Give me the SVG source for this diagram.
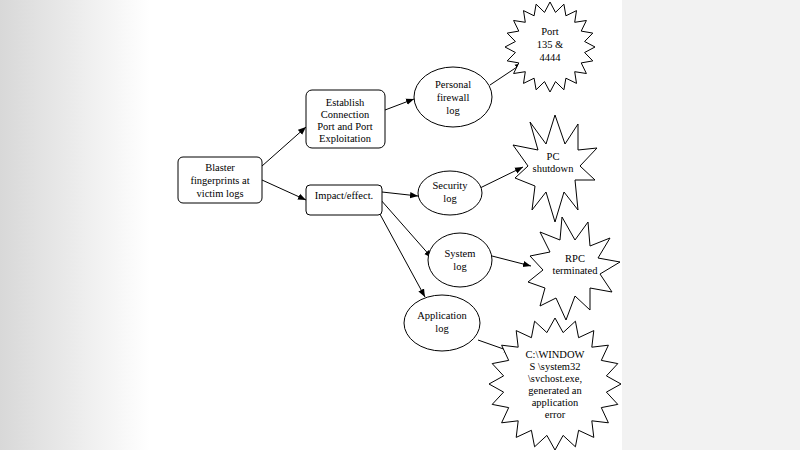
<svg xmlns="http://www.w3.org/2000/svg" width="800" height="450" viewBox="0 0 800 450">
<defs>
<linearGradient id="lg" x1="0" x2="1" y1="0" y2="0"><stop offset="0" stop-color="#d8d8d8"/><stop offset="1" stop-color="#ffffff"/></linearGradient>
<marker id="ah" viewBox="0 0 10 10" refX="10" refY="5" markerWidth="8" markerHeight="8" orient="auto"><path d="M0,1 L10,5 L0,9 z" fill="#000"/></marker>
<style>
.n{fill:#fff;stroke:#000;stroke-width:1}
text{font-size:10.5px;text-anchor:middle;fill:#000}
.c line{stroke:#000;stroke-width:1;marker-end:url(#ah)}
</style>
</defs>
<rect width="800" height="450" fill="#fff"/>
<rect x="0" y="0" width="150" height="450" fill="url(#lg)"/>
<rect x="622" y="0" width="178" height="450" fill="#f2f2f2"/>
<g class="c">
<line x1="262" y1="166" x2="306" y2="127"/>
<line x1="262" y1="180" x2="306" y2="200"/>
<line x1="385" y1="110" x2="414" y2="99"/>
<line x1="382" y1="192" x2="418" y2="196"/>
<line x1="380" y1="199" x2="432" y2="258"/>
<line x1="375" y1="205" x2="425" y2="297"/>
<line x1="490" y1="85" x2="523" y2="63"/>
<line x1="480" y1="188" x2="523" y2="167"/>
<line x1="492" y1="256" x2="531" y2="266"/>
<line x1="478" y1="340" x2="512" y2="352"/>
</g>
<g font-family="'Liberation Serif','Times New Roman','DejaVu Serif',serif">
<g id="blaster"><rect class="n" x="178" y="157" width="84" height="46" rx="5"/><text x="220" y="171">Blaster</text><text x="220" y="184">fingerprints at</text><text x="220" y="197">victim logs</text></g>
<g id="establish"><rect class="n" x="306" y="90" width="79" height="58" rx="6"/><text x="345" y="106">Establish</text><text x="345" y="118">Connection</text><text x="345" y="130">Port and Port</text><text x="345" y="142">Exploitation</text></g>
<g id="impact"><rect class="n" x="306" y="185" width="76" height="30" rx="4"/><text x="344" y="199">Impact/effect.</text></g>
<g id="firewall"><ellipse class="n" cx="453" cy="97" rx="39" ry="30"/><text x="453" y="88">Personal</text><text x="453" y="101">firewall</text><text x="453" y="114">log</text></g>
<g id="security"><ellipse class="n" cx="450" cy="193" rx="32" ry="22"/><text x="450" y="189">Security</text><text x="450" y="202">log</text></g>
<g id="system"><ellipse class="n" cx="460" cy="260" rx="32" ry="27"/><text x="460" y="257">System</text><text x="460" y="270">log</text></g>
<g id="application"><ellipse class="n" cx="442" cy="323" rx="38" ry="28"/><text x="442" y="319">Application</text><text x="442" y="332">log</text></g>
<g id="port"><polygon class="n" points="550,2 555.5,12.4 563.9,4.2 565.9,15.8 576.5,10.6 574.7,22.3 586.4,20.5 581.2,31.1 592.8,33.1 584.6,41.5 595,47 584.6,52.5 592.8,60.9 581.2,62.9 586.4,73.5 574.7,71.7 576.5,83.4 565.9,78.2 563.9,89.8 555.5,81.6 550,92 544.5,81.6 536.1,89.8 534.1,78.2 523.5,83.4 525.3,71.7 513.6,73.5 518.8,62.9 507.2,60.9 515.4,52.5 505,47 515.4,41.5 507.2,33.1 518.8,31.1 513.6,20.5 525.3,22.3 523.5,10.6 534.1,15.8 536.1,4.2 544.5,12.4"/><text x="550" y="35">Port</text><text x="550" y="48">135 &amp;</text><text x="550" y="61">4444</text></g>
<g id="pc"><polygon class="n" points="555,115 565,144 578,124 578,150 597,148 580,166 595,180 575,180 578,210 564,192 555,222 546,192 532,210 535,186 515,178 528,166 513,145 538,150 530,122 546,144"/><text x="553" y="160">PC</text><text x="553" y="172">shutdown</text></g>
<g id="rpc"><polygon class="n" points="562,217 575,240 588,222 590,246 610,238 598,258 620,262 600,274 612,292 590,288 590,310 575,296 566,320 556,298 540,306 545,288 528,282 543,270 530,256 550,252 540,232 560,240"/><text x="575" y="262">RPC</text><text x="575" y="274">terminated</text></g>
<g id="cwin"><polygon class="n" points="555,318 563.1,332.6 575.4,321.2 578.6,337.7 593.8,330.6 591.8,347.2 608.4,345.2 601.3,360.4 617.8,363.6 606.4,375.9 621,384 606.4,392.1 617.8,404.4 601.3,407.6 608.4,422.8 591.8,420.8 593.8,437.4 578.6,430.3 575.4,446.8 563.1,435.4 555,450 546.9,435.4 534.6,446.8 531.4,430.3 516.2,437.4 518.2,420.8 501.6,422.8 508.7,407.6 492.2,404.4 503.6,392.1 489,384 503.6,375.9 492.2,363.6 508.7,360.4 501.6,345.2 518.2,347.2 516.2,330.6 531.4,337.7 534.6,321.2 546.9,332.6"/><text x="555" y="358">C:\WINDOW</text><text x="555" y="370">S \system32</text><text x="555" y="382">\svchost.exe,</text><text x="555" y="394">generated an</text><text x="555" y="406">application</text><text x="555" y="418">error</text></g>
</g>
</svg>
